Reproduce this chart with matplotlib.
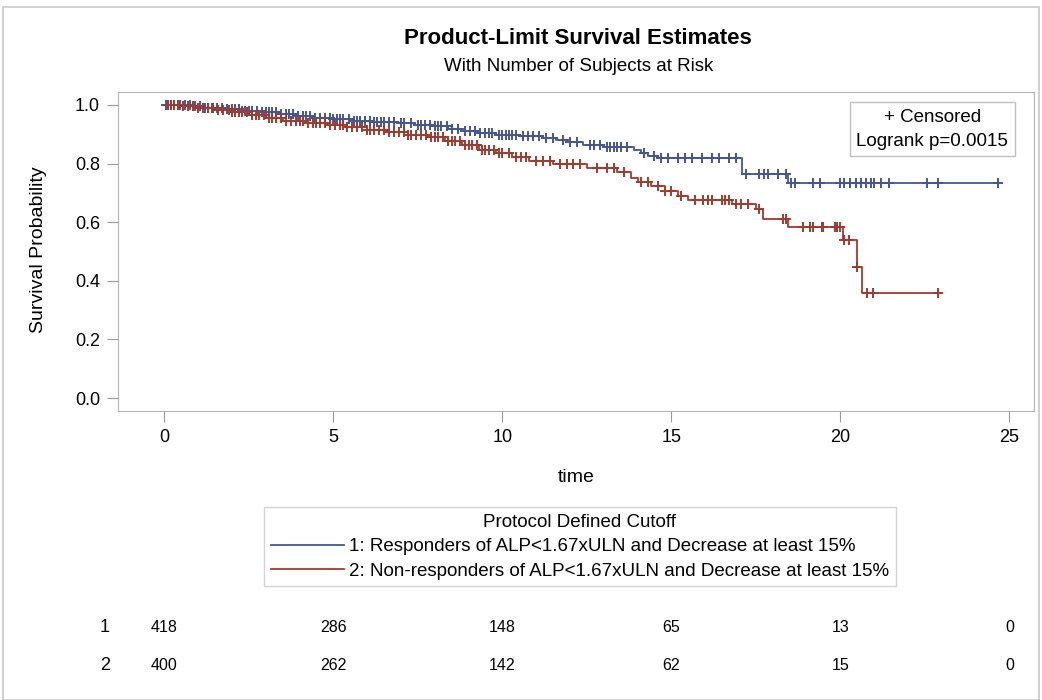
"""
Kaplan-Meier style survival plot with number at risk table
"""

import numpy as np
import matplotlib
matplotlib.use('Agg')
import matplotlib.pyplot as plt
from matplotlib.lines import Line2D
from matplotlib.patches import Rectangle
import matplotlib.transforms as mtransforms

plt.rcParams['font.family'] = ['Liberation Sans', 'DejaVu Sans']

# group 1: responders (step times and survival after each step)
g1_times = [0, 0.3, 0.8, 1.2, 1.8, 2.3, 2.8, 3.4, 3.9, 4.4, 5.0, 5.6, 6.2, 6.9, 7.4,
            7.9, 8.4, 8.9, 9.3, 9.8, 10.5, 11.2, 11.6, 12.0, 12.4, 13.0, 13.9,
            14.1, 14.3, 14.6, 17.1, 18.44]
g1_surv = [1.0, 0.998, 0.995, 0.99, 0.985, 0.98, 0.975, 0.968, 0.962, 0.957, 0.952,
           0.946, 0.942, 0.937, 0.933, 0.927, 0.919, 0.911, 0.903, 0.898, 0.895,
           0.888, 0.880, 0.872, 0.862, 0.857, 0.845, 0.835, 0.826, 0.818, 0.763, 0.734]
g1_censor = [0.05, 0.1, 0.2, 0.3, 0.45, 0.6, 0.75, 0.9, 1.05, 1.2, 1.3, 1.4, 1.55, 1.7,
             1.85, 2.0, 2.1, 2.2, 2.3, 2.4, 2.5, 2.6, 2.75, 2.9, 3.0, 3.1, 3.2, 3.3,
             3.45, 3.6, 3.7, 3.8, 3.95, 4.1, 4.2, 4.3, 4.45, 4.6, 4.75, 4.9, 5.0, 5.1,
             5.2, 5.3, 5.45, 5.6, 5.7, 5.8, 5.95, 6.1, 6.2, 6.3, 6.4, 6.5, 6.65, 6.8,
             7.0, 7.1, 7.3, 7.5, 7.6, 7.7, 7.85, 8.0, 8.1, 8.2, 8.35, 8.5, 8.7, 8.9,
             9.05, 9.2, 9.35, 9.5, 9.6, 9.7, 9.9, 10.0, 10.1, 10.2, 10.3, 10.4, 10.6,
             10.75, 10.9, 11.1, 11.3, 11.5, 11.8, 12.0, 12.2, 12.6, 12.7, 12.9, 13.1,
             13.2, 13.3, 13.4, 13.5, 13.7, 14.2, 14.5, 14.7, 14.9, 15.2, 15.4, 15.6,
             15.9, 16.2, 16.4, 16.7, 16.9, 17.2, 17.6, 17.75, 17.85, 18.15, 18.38,
             18.53, 18.65, 19.2, 19.4, 20.0, 20.1, 20.3, 20.45, 20.6, 20.75, 20.9,
             21.0, 21.2, 21.45, 22.55, 22.9, 24.67]

# group 2: non-responders
g2_times = [0, 0.5, 1.0, 1.5, 2.0, 2.5, 3.0, 3.5, 4.2, 4.8, 5.4, 6.0, 6.6, 7.2, 7.8,
            8.3, 8.8, 9.3, 9.8, 10.3, 10.8, 11.5, 12.5, 13.4, 13.8, 14.0, 14.4, 14.8,
            15.2, 15.5, 16.8, 17.5, 17.7, 18.44, 20.08, 20.5, 20.65]
g2_surv = [1.0, 0.995, 0.99, 0.983, 0.975, 0.965, 0.955, 0.945, 0.937, 0.932, 0.925,
           0.915, 0.906, 0.897, 0.89, 0.877, 0.862, 0.845, 0.835, 0.822, 0.808, 0.8,
           0.785, 0.772, 0.75, 0.737, 0.722, 0.705, 0.69, 0.675, 0.663, 0.645, 0.61,
           0.585, 0.54, 0.447, 0.357]
g2_censor = [0.1, 0.2, 0.3, 0.4, 0.55, 0.7, 0.85, 1.0, 1.15, 1.3, 1.45, 1.6, 1.75, 1.9,
             2.0, 2.1, 2.2, 2.3, 2.45, 2.6, 2.7, 2.8, 2.95, 3.1, 3.2, 3.3, 3.45, 3.6,
             3.75, 3.9, 4.0, 4.1, 4.25, 4.4, 4.5, 4.6, 4.75, 4.9, 5.05, 5.2, 5.3, 5.4,
             5.55, 5.7, 5.85, 6.0, 6.1, 6.2, 6.35, 6.5, 6.65, 6.8, 6.95, 7.1, 7.2,
             7.3, 7.45, 7.6, 7.75, 7.9, 8.0, 8.1, 8.25, 8.4, 8.5, 8.6, 8.75, 8.9,
             9.0, 9.1, 9.25, 9.4, 9.5, 9.6, 9.75, 9.9, 10.0, 10.2, 10.4, 10.55, 10.7,
             11.0, 11.2, 11.4, 11.7, 11.9, 12.1, 12.3, 12.8, 13.1, 13.3, 13.6, 14.1,
             14.3, 14.6, 14.8, 15.0, 15.3, 15.7, 15.94, 16.1, 16.2, 16.5, 16.6, 16.7,
             16.9, 17.06, 17.26, 17.6, 18.3, 18.38, 18.9, 19.1, 19.2, 19.45, 19.5,
             19.85, 19.9, 20.0, 20.1, 20.25, 20.5, 20.8, 20.98, 22.9]

# number at risk
risk_times = [0, 5, 10, 15, 20, 25]
risk_g1 = [418, 286, 148, 65, 13, 0]
risk_g2 = [400, 262, 142, 62, 15, 0]

labels = ['1: Responders of ALP<1.67xULN and Decrease at least 15%',
          '2: Non-responders of ALP<1.67xULN and Decrease at least 15%']
colors = ['#445694', '#A23A2E']
grey = '#9a9a9a'

fig = plt.figure(figsize=(10.42, 7.0), dpi=100)
fig.patches.append(Rectangle((0.003, 0.0), 0.994, 0.99, transform=fig.transFigure,
                             fill=False, ec='#c8c8c8', lw=1.2))
ax = fig.add_axes([118 / 1042, 1 - 411 / 700, 916 / 1042, 319 / 700])

groups = [(g1_times, g1_surv, g1_censor), (g2_times, g2_surv, g2_censor)]
for (t, s, c), col in zip(groups, colors):
    t = np.array(t)
    s = np.array(s)
    c = np.array(c)
    t_end = max(t.max(), c.max())
    ax.step(np.append(t, t_end), np.append(s, s[-1]), where='post', color=col, lw=1.3)
    idx = np.searchsorted(t, c, side='right') - 1
    ax.plot(c, s[idx], ls='none', marker='+', ms=7.5, mew=1.4, color=col)

ax.set_xlim(-1.37, 25.73)
ax.set_ylim(-0.044, 1.044)
ax.set_xticks([0, 5, 10, 15, 20, 25])
ax.set_yticks([0.0, 0.2, 0.4, 0.6, 0.8, 1.0])
ax.set_yticklabels(['0.0', '0.2', '0.4', '0.6', '0.8', '1.0'])
ax.tick_params(colors=grey, labelcolor='black', labelsize=13, length=8, pad=5)
for sp in ax.spines.values():
    sp.set_color('#b4b4b4')
ax.set_xlabel('time', fontsize=14)
ax.set_ylabel('Survival Probability', fontsize=14)
ax.xaxis.label.set_va('center')
ax.yaxis.label.set_va('center')
ax.xaxis.set_label_coords(0.5, -0.21)
ax.yaxis.set_label_coords(-0.087, 0.505)

ax.text(0.889, 0.883, '+ Censored\nLogrank p=0.0015', transform=ax.transAxes,
        ha='center', va='center', fontsize=13.5, linespacing=1.55,
        bbox=dict(boxstyle='square,pad=0.35', fc='white', ec='#c0c0c0'))

fig.text(0.555, 0.945, 'Product-Limit Survival Estimates', ha='center', va='center',
         fontsize=16, fontweight='bold')
fig.text(0.555, 0.905, 'With Number of Subjects at Risk', ha='center', va='center',
         fontsize=13.5)

handles = [Line2D([], [], color=col, lw=1.3) for col in colors]
leg = fig.legend(handles, labels, title='Protocol Defined Cutoff', loc='center',
                 bbox_to_anchor=(0.5566, 0.219), fontsize=13.5, title_fontsize=13.5,
                 frameon=True, fancybox=False, edgecolor='#c8c8c8',
                 handlelength=3.9, handletextpad=0.3, labelspacing=0.4,
                 borderpad=0.35, borderaxespad=0)
leg.get_frame().set_linewidth(1.0)

# number at risk table
trans = mtransforms.blended_transform_factory(ax.transData, fig.transFigure)
for row, (vals, ypos) in enumerate([(risk_g1, 0.103), (risk_g2, 0.05)]):
    fig.text(0.1008, ypos, str(row + 1), ha='center', va='center', fontsize=13)
    for tt, v in zip(risk_times, vals):
        ax.text(tt, ypos, str(v), transform=trans, ha='center', va='center',
                fontsize=11.5, clip_on=False)

plt.savefig('out.png', dpi=100)
plt.close()
